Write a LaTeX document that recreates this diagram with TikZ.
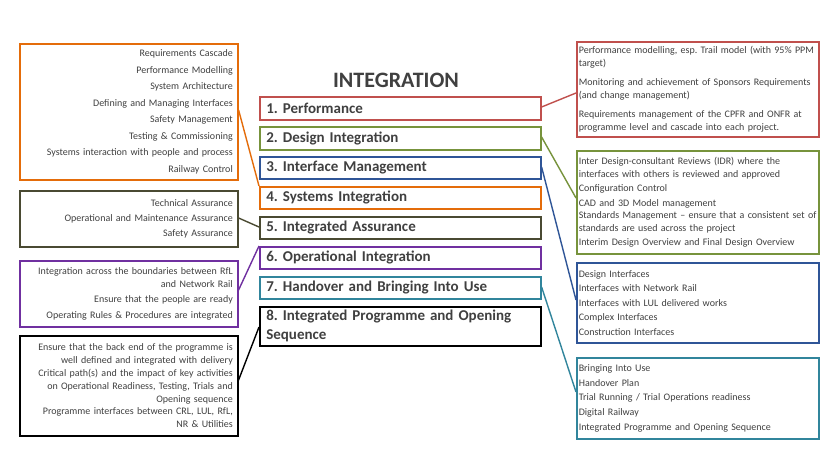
\documentclass[tikz,border=0pt]{standalone}
\usepackage{fontspec}
\setmainfont{Carlito}
\hyphenpenalty=10000
\exhyphenpenalty=10000
\frenchspacing
\definecolor{txt}{HTML}{404040}
\definecolor{cred}{HTML}{C0504D}
\definecolor{cgreen}{HTML}{77933C}
\definecolor{cblue}{HTML}{2F5597}
\definecolor{corange}{HTML}{E46C0A}
\definecolor{colive}{HTML}{4A4A32}
\definecolor{cpurple}{HTML}{7030A0}
\definecolor{cteal}{HTML}{31859C}
\tikzset{
  stage/.style={draw, line width=1.6pt, anchor=north west, minimum width=281pt, inner sep=0pt,
    text=txt, font=\bfseries\fontsize{15}{19}\selectfont, align=left, text width=268pt},
  leftbox/.style={draw, line width=1.6pt, anchor=north west, minimum width=218pt, inner sep=0pt,
    text=txt, align=right, text width=208pt},
  rightbox/.style={draw, line width=1.6pt, anchor=north west, minimum width=242pt, inner sep=0pt,
    text=txt, align=left, text width=238pt},
  link/.style={line width=1.4pt}
}
\begin{document}
\begin{tikzpicture}[x=1pt,y=-1pt]
\useasboundingbox[fill=white] (0,0) rectangle (840,460);
\node[text=txt, font=\bfseries\fontsize{22}{24}\selectfont] (title) at (396,80) {INTEGRATION};
% centre stages
\node[stage, draw=cred, minimum height=23pt] (s1) at (259,96) {1. Performance};
\node[stage, draw=cgreen, minimum height=23pt] (s2) at (259,126) {2. Design Integration};
\node[stage, draw=cblue, minimum height=22pt] (s3) at (259,156) {3. Interface Management};
\node[stage, draw=corange, minimum height=22pt] (s4) at (259,186) {4. Systems Integration};
\node[stage, draw=colive, minimum height=22pt] (s5) at (259,216) {5. Integrated Assurance};
\node[stage, draw=cpurple, minimum height=22pt] (s6) at (259,246) {6. Operational Integration};
\node[stage, draw=cteal, minimum height=22pt] (s7) at (259,276) {7. Handover and Bringing Into Use};
\node[stage, draw=black, minimum height=39pt] (s8) at (259,306) {8. Integrated Programme and Opening\\Sequence};
% left boxes
\node[leftbox, draw=corange, minimum height=136pt, font=\fontsize{10}{16.5}\selectfont] (lorange) at (19,43)
  {Requirements Cascade\\Performance Modelling\\System Architecture\\Defining and Managing Interfaces\\Safety Management\\Testing \& Commissioning\\Systems interaction with people and process\\Railway Control};
\node[leftbox, draw=colive, minimum height=56pt, font=\fontsize{10}{15}\selectfont] (lolive) at (19,190)
  {Technical Assurance\\Operational and Maintenance Assurance\\Safety Assurance};
\node[leftbox, draw=cpurple, minimum height=66pt, font=\fontsize{10}{13}\selectfont] (lpurple) at (19,260)
  {Integration across the boundaries between RfL\\and Network Rail\\[2pt]Ensure that the people are ready\\[3pt]Operating Rules \& Procedures are integrated};
\node[leftbox, draw=black, minimum height=100pt, font=\fontsize{10}{12.8}\selectfont] (lblack) at (19,335)
  {Ensure that the back end of the programme is\\well defined and integrated with delivery\\Critical path(s) and the impact of key activities\\on Operational Readiness, Testing, Trials and\\Opening sequence\\Programme interfaces between CRL, LUL, RfL,\\NR \& Utilities};
% right boxes
\node[rightbox, draw=cred, minimum height=95pt, font=\fontsize{10}{12.5}\selectfont] (rred) at (576,41)
  {Performance modelling, esp. Trail model (with 95\% PPM\\target)\\[7pt]Monitoring and achievement of Sponsors Requirements\\(and change management)\\[7pt]Requirements management of the CPFR and ONFR at\\programme level  and cascade into each project.};
\node[rightbox, draw=cgreen, minimum height=103pt, font=\fontsize{10}{12.5}\selectfont] (rgreen) at (576,150)
  {Inter Design-consultant Reviews (IDR) where the\\interfaces with others is reviewed and approved\\[2pt]Configuration Control\\[2pt]CAD and 3D Model management\\Standards Management -- ensure that a consistent set of\\standards are used across the project\\[2pt]Interim Design Overview and Final Design Overview};
\node[rightbox, draw=cblue, minimum height=80pt, font=\fontsize{10}{14.6}\selectfont] (rblue) at (576,262)
  {Design Interfaces\\Interfaces with Network Rail\\Interfaces with LUL delivered works\\Complex Interfaces\\Construction Interfaces};
\node[rightbox, draw=cteal, minimum height=81pt, font=\fontsize{10}{14.6}\selectfont] (rteal) at (576,357)
  {Bringing Into Use\\Handover Plan\\Trial Running / Trial Operations readiness\\Digital Railway\\Integrated Programme and Opening Sequence};
% connectors
\draw[link, corange] ([yshift=-67pt]lorange.north east) -- (s4.north west);
\draw[link, colive] ([yshift=-28pt]lolive.north east) -- ([yshift=-11pt]s5.north west);
\draw[link, cpurple] ([yshift=-30pt]lpurple.north east) -- (s6.north west);
\draw[link, black] ([yshift=-45pt]lblack.north east) -- ([yshift=-21pt]s8.north west);
\draw[link, cred] ([yshift=-11pt]s1.north east) -- ([yshift=-52pt]rred.north west);
\draw[link, cgreen] ([yshift=-11pt]s2.north east) -- ([yshift=-48pt]rgreen.north west);
\draw[link, cblue] ([yshift=-11pt]s3.north east) -- ([yshift=-38pt]rblue.north west);
\draw[link, cteal] ([yshift=-11pt]s7.north east) -- ([yshift=-35pt]rteal.north west);
\end{tikzpicture}
\end{document}
